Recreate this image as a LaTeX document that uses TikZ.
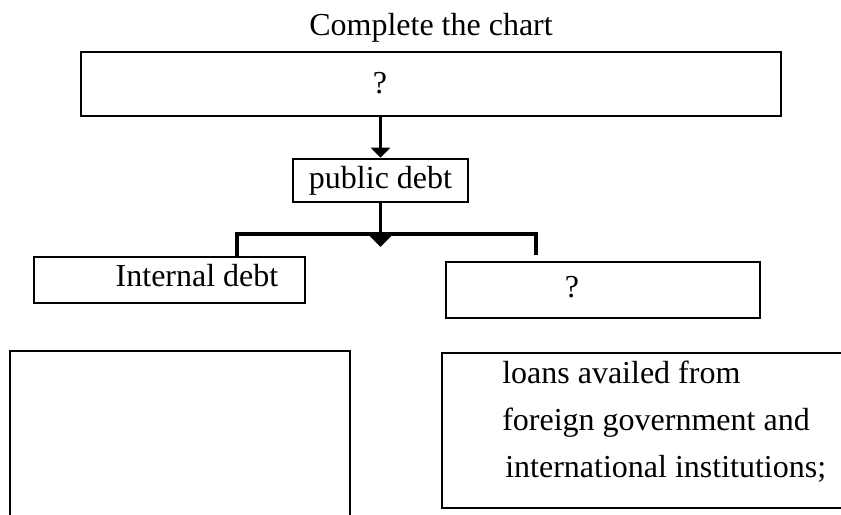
\documentclass[tikz,border=0pt]{standalone}
\usepackage{fontspec}
\setmainfont{Liberation Serif}
\usetikzlibrary{arrows.meta}
\begin{document}
\begin{tikzpicture}[x=0.75pt,y=-0.75pt,
  box/.style 2 args={draw=black, line width=2pt, minimum width={#1*0.75pt},
    minimum height={#2*0.75pt}, inner sep=0pt},
  txt/.style={font=\fontsize{24pt}{28pt}\selectfont, inner sep=0pt, anchor=base},
  conn/.style={draw=black, line width=2.7pt, line join=miter}]
\useasboundingbox (0,0) rectangle (841,514);
\clip (0,0) rectangle (841,514);

% heading
\node[txt] (title) at (431,35) {Complete the chart};

% boxes
\node[box={700}{64}] (top) at (431,84) {};
\node[txt] (topq) at (380,93) {?};
\node[box={175}{43}] (pd) at (380.5,180.5) {};
\node[txt] (pdt) at (380.5,188) {public debt};
\node[box={271}{46}] (ind) at (169.5,280) {};
\node[txt] (indt) at (197,286) {Internal debt};
\node[box={314}{56}] (ext) at (603,290) {};
\node[txt] (extq) at (572,297) {?};
\node[box={340}{209}] (bl) at (180,455.5) {};
\node[box={438}{155}] (br) at (661,430.5) {};
\node[txt, anchor=base west] (l1) at (502,383) {loans availed from};
\node[txt, anchor=base west] (l2) at (502,430) {foreign government and};
\node[txt, anchor=base west] (l3) at (505,477) {international institutions;};

% connectors
\draw[conn, -{Triangle[width=14.25pt,length=7.5pt]}] (pd.north |- top.south) -- (pd.north);
\coordinate (tip) at (380.5,247);
\draw[conn, -{Triangle[width=17.25pt,length=9pt]}] (pd.south) -- (tip);
\coordinate (jl) at (237,234);
\coordinate (jr) at (536,234);
\coordinate (rend) at (536,255);
\draw[conn] (ind.north -| jl) -- (jl) -- (jr) -- (rend);
\end{tikzpicture}
\end{document}
